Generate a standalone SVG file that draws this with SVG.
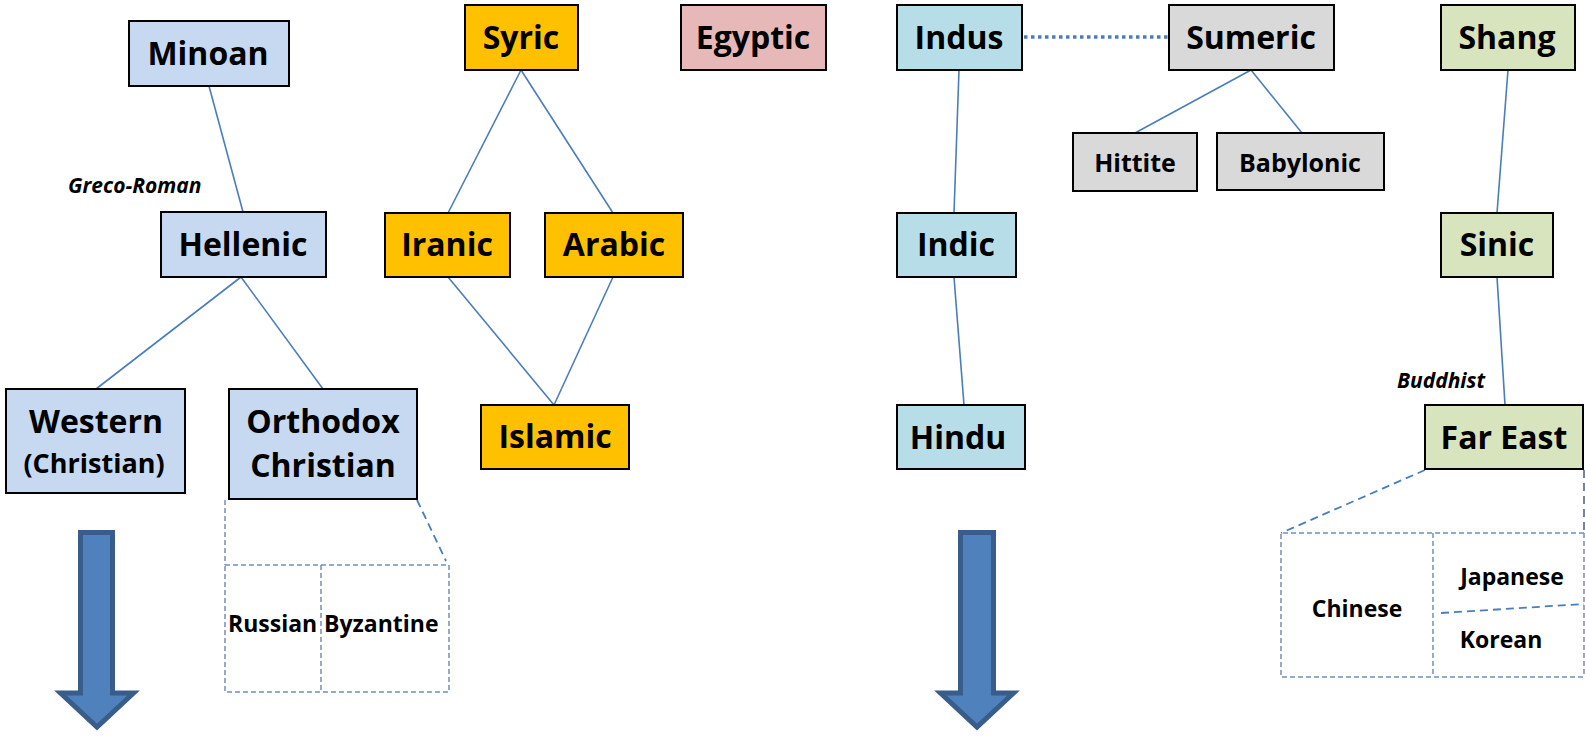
<svg xmlns="http://www.w3.org/2000/svg" width="1585" height="736" viewBox="0 0 1585 736">
<style>
.n{stroke:#000;stroke-width:2}
.t{font-family:"Open Sans","Liberation Sans",sans-serif;font-weight:bold;font-size:32px;text-anchor:middle;fill:#000}
.m{font-size:27px}
.s{font-family:"Open Sans","Liberation Sans",sans-serif;font-weight:bold;font-size:25px;text-anchor:middle;fill:#000}
.x{font-size:23px}
.r{font-size:23px;text-anchor:start}
.i{font-family:"Open Sans","Liberation Sans",sans-serif;font-weight:bold;font-style:italic;font-size:21px;fill:#000}
.c{stroke:#4a7ebb;stroke-width:1.6;fill:none}
.dot{stroke:#4a7ebb;stroke-width:3.5;stroke-dasharray:3.5 3.5;fill:none}
.dl{stroke:#4a7ebb;stroke-width:1.8;stroke-dasharray:8 5;fill:none}
.db{stroke:#6f8fbf;stroke-width:1.5;stroke-dasharray:5 3;fill:none}
.ar{fill:#4f81bd;stroke:#385d8a;stroke-width:5}
.blue{fill:#c6d9f1}.or{fill:#ffc000}.pk{fill:#e6b9b8}.tl{fill:#b7dee8}.gr{fill:#d9d9d9}.gn{fill:#d7e4bd}
</style>
<g id="connectors">
<line class="c" x1="209" y1="86" x2="243" y2="212"/>
<line class="c" x1="241" y1="277" x2="96" y2="389"/>
<line class="c" x1="241" y1="277" x2="323" y2="389"/>
<line class="c" x1="521" y1="70" x2="448" y2="213"/>
<line class="c" x1="521" y1="70" x2="613" y2="213"/>
<line class="c" x1="448" y1="277" x2="554" y2="405"/>
<line class="c" x1="613" y1="277" x2="554" y2="405"/>
<line class="dot" x1="1024" y1="37" x2="1168" y2="37"/>
<line class="c" x1="959" y1="70" x2="954" y2="213"/>
<line class="c" x1="954" y1="277" x2="964" y2="405"/>
<line class="c" x1="1251" y1="70" x2="1135" y2="133"/>
<line class="c" x1="1251" y1="70" x2="1302" y2="133"/>
<line class="c" x1="1508" y1="70" x2="1497" y2="213"/>
<line class="c" x1="1497" y1="277" x2="1505" y2="405"/>
<line class="db" x1="225" y1="500" x2="225" y2="565"/>
<line class="dl" x1="417" y1="500" x2="446" y2="561"/>
<line class="dl" x1="1425" y1="470" x2="1281" y2="533"/>
<line class="dl" x1="1584" y1="470" x2="1584" y2="533"/>
</g>
<g id="minoan"><rect class="n blue" x="129" y="21" width="160" height="65"/><text class="t" x="208" y="65">Minoan</text></g>
<g id="syric"><rect class="n or" x="465" y="5" width="113" height="65"/><text class="t" x="521" y="49">Syric</text></g>
<g id="egyptic"><rect class="n pk" x="681" y="5" width="145" height="65"/><text class="t" x="753" y="49">Egyptic</text></g>
<g id="indus"><rect class="n tl" x="897" y="5" width="125" height="65"/><text class="t" x="959" y="49">Indus</text></g>
<g id="sumeric"><rect class="n gr" x="1169" y="5" width="165" height="65"/><text class="t" x="1251" y="49">Sumeric</text></g>
<g id="shang"><rect class="n gn" x="1441" y="5" width="134" height="65"/><text class="t" x="1507" y="49">Shang</text></g>
<g id="hittite"><rect class="n gr" x="1073" y="133" width="124" height="58"/><text class="s" x="1135" y="172">Hittite</text></g>
<g id="babylonic"><rect class="n gr" x="1217" y="133" width="167" height="57"/><text class="s" x="1300" y="172">Babylonic</text></g>
<g id="greco-roman"><text class="i" x="68" y="193">Greco-Roman</text></g>
<g id="hellenic"><rect class="n blue" x="161" y="212" width="165" height="65"/><text class="t" x="243" y="256">Hellenic</text></g>
<g id="iranic"><rect class="n or" x="385" y="213" width="125" height="64"/><text class="t" x="447" y="256">Iranic</text></g>
<g id="arabic"><rect class="n or" x="545" y="213" width="138" height="64"/><text class="t" x="614" y="256">Arabic</text></g>
<g id="indic"><rect class="n tl" x="897" y="213" width="119" height="64"/><text class="t" x="956" y="256">Indic</text></g>
<g id="sinic"><rect class="n gn" x="1441" y="213" width="112" height="64"/><text class="t" x="1497" y="256">Sinic</text></g>
<g id="western"><rect class="n blue" x="6" y="389" width="179" height="104"/><text class="t" x="96" y="433">Western</text><text class="t m" x="94" y="473">(Christian)</text></g>
<g id="orthodox"><rect class="n blue" x="229" y="389" width="188" height="110"/><text class="t" x="323" y="433">Orthodox</text><text class="t" x="323" y="477">Christian</text></g>
<g id="islamic"><rect class="n or" x="481" y="405" width="148" height="64"/><text class="t" x="555" y="448">Islamic</text></g>
<g id="hindu"><rect class="n tl" x="897" y="405" width="128" height="64"/><text class="t" x="958" y="449">Hindu</text></g>
<g id="buddhist"><text class="i" x="1397" y="388">Buddhist</text></g>
<g id="fareast"><rect class="n gn" x="1425" y="405" width="158" height="64"/><text class="t" x="1504" y="449">Far East</text></g>
<g id="orthodox-split">
<rect class="db" x="225" y="565" width="224" height="127"/>
<line class="db" x1="321" y1="565" x2="321" y2="692"/>
<text class="s r" x="228" y="632">Russian</text>
<text class="s r" x="324" y="632">Byzantine</text>
</g>
<g id="fareast-split">
<path class="db" d="M1584,533 H1281 V677 H1584"/>
<line class="db" x1="1584" y1="533" x2="1584" y2="677"/>
<line class="db" x1="1433" y1="533" x2="1433" y2="677"/>
<line class="dl" x1="1441" y1="613" x2="1584" y2="604"/>
<text class="s x" x="1357" y="617">Chinese</text>
<text class="s x" x="1512" y="585">Japanese</text>
<text class="s x" x="1501" y="648">Korean</text>
</g>
<g id="arrow-left"><path class="ar" d="M80.5,532.5 H112.5 V693 H133.5 L97,727 L60.5,693 H80.5 Z"/></g>
<g id="arrow-right"><path class="ar" d="M960.5,532.5 H993.5 V693 H1013.5 L977,727 L940.5,693 H960.5 Z"/></g>
</svg>
